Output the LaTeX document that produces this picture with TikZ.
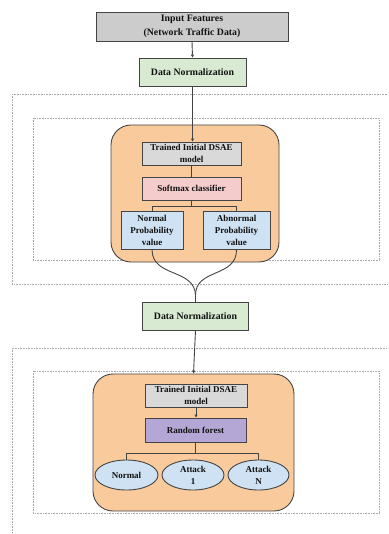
\documentclass[tikz,border=0pt]{standalone}
\usepackage{fontspec}
\setmainfont{Liberation Serif}
\usetikzlibrary{shapes.geometric,arrows.meta,calc}
\definecolor{ingray}{HTML}{CCCCCC}
\definecolor{dngreen}{HTML}{D9EAD3}
\definecolor{orangebg}{HTML}{F9CB9C}
\definecolor{trgray}{HTML}{D9D9D9}
\definecolor{smpink}{HTML}{F4CCCC}
\definecolor{pblue}{HTML}{CFE2F3}
\definecolor{rfpurple}{HTML}{B4A7D6}
\definecolor{edge}{HTML}{444444}
\definecolor{txt}{HTML}{111111}
\definecolor{dotc}{HTML}{A8A8A8}
\begin{document}
\begin{tikzpicture}[x=1pt,y=-1pt,
  box/.style={draw=edge, line width=0.9pt, rectangle, align=center, inner sep=1pt, text=txt,
    font=\fontsize{9}{12}\selectfont\bfseries},
  bigbox/.style={box, font=\fontsize{9.8}{13.5}\selectfont\bfseries},
  oval/.style={box, ellipse, fill=pblue},
  orangebox/.style={draw=edge, line width=0.9pt, fill=orangebg, rounded corners=20pt},
  dotbox/.style={draw=dotc, line width=0.6pt, dash pattern=on 0.8pt off 0.8pt},
  conn/.style={draw=edge, line width=0.9pt},
  arr/.style={conn, -{Triangle[length=3pt,width=3pt]}}
]
\clip (0,0) rectangle (388,534);
\fill[white] (0,0) rectangle (388,534);

% dotted frames
\draw[dotbox] (12,94) rectangle (400,284);
\draw[dotbox] (33,118) rectangle (379,260);
\draw[dotbox] (12,348) rectangle (400,545);
\draw[dotbox] (33,371) rectangle (379,513);

% orange containers
\node[orangebox, minimum width=168, minimum height=137] (O1) at (195,193.5) {};
\node[orangebox, minimum width=201, minimum height=137] (O2) at (193.5,442.5) {};

% boxes
\node[bigbox, fill=ingray, minimum width=192, minimum height=29] (IN) at (192,26.5) {Input Features\\(Network Traffic Data)};
\node[bigbox, fill=dngreen, minimum width=107, minimum height=28] (DN1) at (192.5,72) {Data Normalization};
\node[box, fill=trgray, minimum width=99, minimum height=23] (T1) at (191.5,153.5) {Trained Initial DSAE\\model};
\node[box, fill=smpink, minimum width=99, minimum height=23] (SM) at (191.5,188.5) {Softmax classifier};
\node[box, fill=pblue, minimum width=62, minimum height=38] (PN) at (152,230) {Normal\\Probability\\value};
\node[box, fill=pblue, minimum width=67, minimum height=38] (PA) at (236.5,230) {Abnormal\\Probability\\value};
\node[bigbox, fill=dngreen, minimum width=106, minimum height=28] (DN2) at (195.5,316) {Data Normalization};
\node[box, fill=trgray, minimum width=102, minimum height=23] (T2) at (196,395.5) {Trained Initial DSAE\\model};
\node[box, fill=rfpurple, minimum width=101, minimum height=24] (RF) at (195.5,430) {Random forest};
\node[oval, minimum width=63, minimum height=30] (E1) at (126.5,475) {Normal};
\node[oval, minimum width=62, minimum height=30] (E2) at (193,475) {Attack\\1};
\node[oval, minimum width=61, minimum height=30] (E3) at (258.5,475) {Attack\\N};

\coordinate (M) at ($(DN2.north)+(0,-6)$);

% connectors
\draw[arr] (IN.south) -- (DN1.north);
\draw[arr] (DN1.south) -- (DN1.south |- T1.north);
\draw[conn] (T1.south) -- (SM.south |- SM.north);
\draw[conn] (SM.south) -- ++(0,6) -| (PN.north);
\draw[conn] (SM.south) -- ++(0,6) -| (PA.north);
\draw[conn] (PN.south) .. controls (152,278) and (195,268) .. (M);
\draw[conn] (PA.south) .. controls (237,278) and (195,268) .. (M);
\draw[conn] (M) -- (DN2.north);
\draw[arr] (DN2.south) -- (O2.north);
\draw[arr] (T2.south) -- (T2.south |- RF.north);
\draw[conn] (RF.south) -- ++(0,11) -| (E1.north);
\draw[conn] (RF.south) -- ++(0,11) -| (E3.north);
\end{tikzpicture}
\end{document}
